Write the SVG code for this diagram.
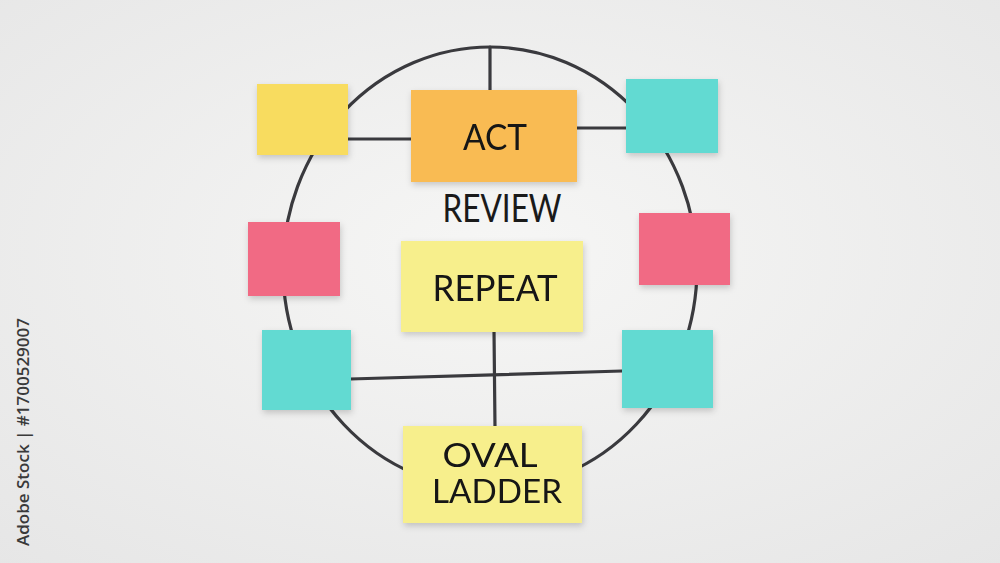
<svg xmlns="http://www.w3.org/2000/svg" width="1000" height="563" viewBox="0 0 1000 563">
<defs>
<radialGradient id="bg" cx="50%" cy="45%" r="75%">
<stop offset="0" stop-color="#f6f6f5"/>
<stop offset="1" stop-color="#e6e6e6"/>
</radialGradient>
<filter id="sh" x="-20%" y="-20%" width="140%" height="150%">
<feDropShadow dx="1" dy="3" stdDeviation="3" flood-color="#000" flood-opacity="0.18"/>
</filter>
<style>
.ln{fill:none;stroke:#3a3a3e;stroke-width:3.2;stroke-linecap:round}
.note{filter:url(#sh)}
.lbl{font-family:Lato,"Open Sans","DejaVu Sans",sans-serif;font-size:36px;fill:#141414;text-anchor:middle}
.sm{font-size:32px}
.yel{fill:#f8dc5e}.org{fill:#f9bb52}.cyan{fill:#62dad2}.pink{fill:#f16b84}.lem{fill:#f7ef8c}
</style>
</defs>
<rect width="1000" height="563" fill="url(#bg)"/>
<text transform="translate(29,432) rotate(-90)" font-family="'Open Sans','DejaVu Sans',sans-serif" font-weight="600" font-size="17" fill="#3a3a3a" text-anchor="middle" textLength="228" lengthAdjust="spacingAndGlyphs">Adobe Stock | #1700529007</text>
<g id="connectors">
<ellipse class="ln" cx="490" cy="268" rx="207" ry="221"/>
<line class="ln" x1="490" y1="47" x2="490" y2="92"/>
<line class="ln" x1="346" y1="139" x2="413" y2="139"/>
<line class="ln" x1="576" y1="128" x2="628" y2="128"/>
<line class="ln" x1="494" y1="330" x2="495" y2="428"/>
<line class="ln" x1="350" y1="379" x2="622" y2="371"/>
</g>
<g id="note-tl" class="note"><rect class="yel" x="257" y="84" width="91" height="71"/></g>
<g id="note-act" class="note"><rect class="org" x="411" y="90" width="166" height="92"/><text class="lbl" x="495" y="150" textLength="64" lengthAdjust="spacingAndGlyphs">ACT</text></g>
<g id="note-tr" class="note"><rect class="cyan" x="626" y="79" width="92" height="74"/></g>
<g id="review"><text x="502" y="222" font-family="Lato,'Open Sans',sans-serif" font-weight="400" font-size="38" fill="#1a1a1a" text-anchor="middle" textLength="119" lengthAdjust="spacingAndGlyphs">REVIEW</text></g>
<g id="note-ml" class="note"><rect class="pink" x="248" y="222" width="92" height="74"/></g>
<g id="note-mr" class="note"><rect class="pink" x="639" y="213" width="91" height="72"/></g>
<g id="note-repeat" class="note"><rect class="lem" x="401" y="241" width="182" height="91"/><text class="lbl" x="495" y="301" textLength="125" lengthAdjust="spacingAndGlyphs">REPEAT</text></g>
<g id="note-bl" class="note"><rect class="cyan" x="262" y="330" width="89" height="80"/></g>
<g id="note-br" class="note"><rect class="cyan" x="622" y="330" width="91" height="78"/></g>
<g id="note-oval" class="note"><rect class="lem" x="403" y="426" width="179" height="97"/><text class="lbl sm" x="490" y="467" textLength="95" lengthAdjust="spacingAndGlyphs">OVAL</text><text class="lbl sm" x="497" y="503" textLength="130" lengthAdjust="spacingAndGlyphs">LADDER</text></g>
</svg>
